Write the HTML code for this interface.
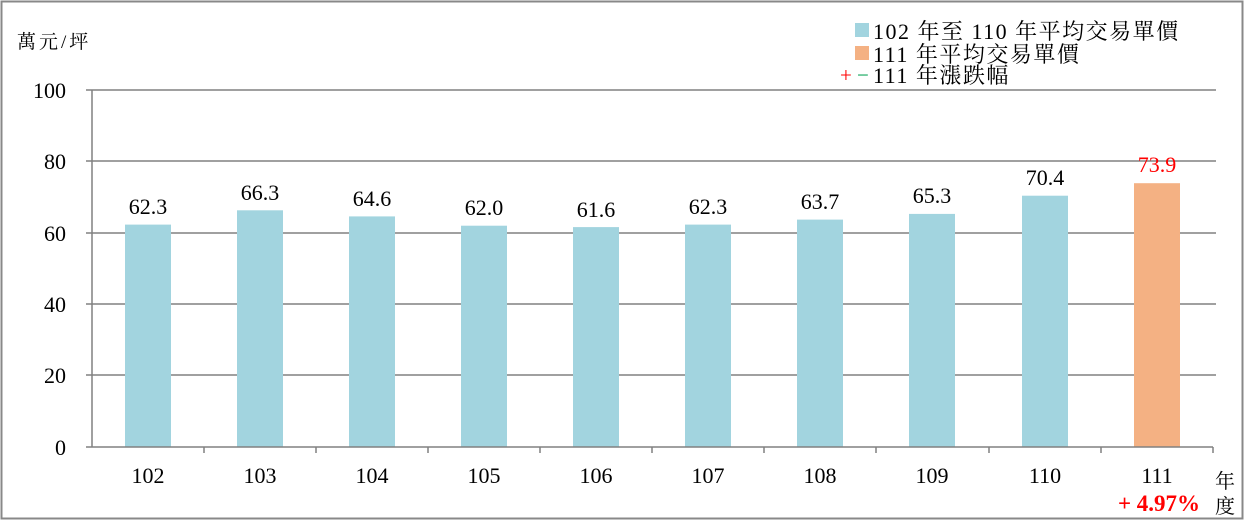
<!DOCTYPE html>
<html><head><meta charset="utf-8"><style>
body{margin:0;background:#fff}
svg text{font-family:"Liberation Serif","Noto Serif CJK SC",serif}
</style></head><body>
<svg width="1245" height="523" xmlns="http://www.w3.org/2000/svg">
<rect x="1.5" y="1.5" width="1241" height="517" fill="#fff" stroke="#888" stroke-width="2"/>
<g stroke="#808080" stroke-width="1.5">
<line x1="92" y1="90" x2="1216" y2="90"/>
<line x1="92" y1="161" x2="1216" y2="161"/>
<line x1="92" y1="233" x2="1216" y2="233"/>
<line x1="92" y1="304" x2="1216" y2="304"/>
<line x1="92" y1="375" x2="1216" y2="375"/>
<line x1="92" y1="90" x2="92" y2="447"/>
<line x1="86" y1="90" x2="92" y2="90"/><line x1="86" y1="161" x2="92" y2="161"/><line x1="86" y1="233" x2="92" y2="233"/><line x1="86" y1="304" x2="92" y2="304"/><line x1="86" y1="375" x2="92" y2="375"/><line x1="86" y1="447" x2="92" y2="447"/>
</g>
<g fill="#a2d4df">
<rect x="125" y="224.6" width="46" height="222.4"/>
<rect x="237" y="210.3" width="46" height="236.7"/>
<rect x="349" y="216.4" width="46" height="230.6"/>
<rect x="461" y="225.7" width="46" height="221.3"/>
<rect x="573" y="227.1" width="46" height="219.9"/>
<rect x="685" y="224.6" width="46" height="222.4"/>
<rect x="797" y="219.6" width="46" height="227.4"/>
<rect x="909" y="213.9" width="46" height="233.1"/>
<rect x="1022" y="195.7" width="46" height="251.3"/>
</g>
<rect x="1134" y="183.2" width="46" height="263.8" fill="#f4b183"/>
<g stroke="#808080" stroke-width="1.5">
<line x1="92" y1="447" x2="1213" y2="447"/>
<line x1="204" y1="447" x2="204" y2="453"/><line x1="316" y1="447" x2="316" y2="453"/><line x1="428" y1="447" x2="428" y2="453"/><line x1="540" y1="447" x2="540" y2="453"/><line x1="652" y1="447" x2="652" y2="453"/><line x1="764" y1="447" x2="764" y2="453"/><line x1="876" y1="447" x2="876" y2="453"/><line x1="989" y1="447" x2="989" y2="453"/><line x1="1101" y1="447" x2="1101" y2="453"/><line x1="1213" y1="447" x2="1213" y2="453"/>
</g>
<g font-size="22" text-anchor="end" fill="#000">
<text x="66" y="98">100</text><text x="66" y="169">80</text><text x="66" y="241">60</text><text x="66" y="312">40</text><text x="66" y="383">20</text><text x="66" y="455">0</text>
</g>
<g font-size="22" text-anchor="middle" fill="#000">
<text x="148" y="214">62.3</text><text x="260" y="200">66.3</text><text x="372" y="206">64.6</text><text x="484" y="215">62.0</text><text x="596" y="217">61.6</text><text x="708" y="214">62.3</text><text x="820" y="209">63.7</text><text x="932" y="203">65.3</text><text x="1045" y="185">70.4</text>
<text x="148" y="483">102</text><text x="260" y="483">103</text><text x="372" y="483">104</text><text x="484" y="483">105</text><text x="596" y="483">106</text><text x="708" y="483">107</text><text x="820" y="483">108</text><text x="932" y="483">109</text><text x="1045" y="483">110</text><text x="1157" y="483">111</text>
</g>
<text x="1157" y="172" font-size="22" text-anchor="middle" fill="#ff0000">73.9</text>
<text x="1159" y="511" font-size="23" text-anchor="middle" fill="#ff0000" font-weight="bold">+ 4.97%</text>
<text x="1225" y="488" font-size="20" text-anchor="middle">年</text>
<text x="1225" y="513" font-size="20" text-anchor="middle">度</text>
<text x="17" y="48" font-size="19" letter-spacing="3">萬元/坪</text>
<rect x="855" y="23" width="14" height="14" fill="#a2d4df"/>
<rect x="855" y="46" width="14" height="14" fill="#f4b183"/>
<g font-size="22" letter-spacing="1.5">
<text x="873" y="39">102 年至 110 年平均交易單價</text>
<text x="873" y="62">111 年平均交易單價</text>
<text x="873" y="83">111 年漲跌幅</text>
</g>
<text x="840" y="82" font-size="21" fill="#ff0000">+</text>
<text x="857" y="82" font-size="21" fill="#00a050">−</text>
</svg>
</body></html>
